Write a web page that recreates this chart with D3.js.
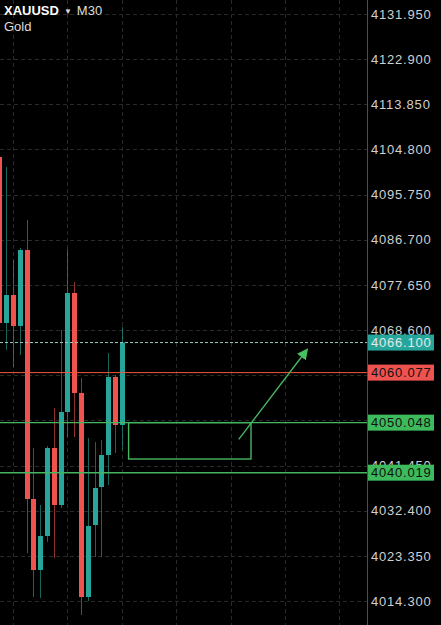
<!DOCTYPE html>
<html>
<head>
<meta charset="utf-8">
<style>
  html, body { margin: 0; padding: 0; background: #000; overflow: hidden; }
  svg { display: block; font-family: 'Liberation Sans', Arial, sans-serif; }
</style>
</head>
<body>
<div id="chart"></div>
<script src="https://cdn.jsdelivr.net/npm/d3@7/dist/d3.min.js"></script>
<script>
// XAUUSD M30 candles (oldest first)
const opens = [4103.29, 4070.02, 4075.63, 4069.42, 4084.65, 4034.74, 4020.51, 4027.33, 4044.97, 4033.54,
  4052.18, 4076.03, 4055.99, 4015.10, 4029.53, 4037.15, 4043.56, 4059.20, 4049.58];
const highs = [4104.50, 4101.29, 4082.65, 4085.05, 4090.66, 4044.97, 4033.54, 4045.37, 4052.98, 4068.62,
  4084.85, 4078.24, 4059.00, 4046.97, 4046.17, 4046.57, 4064.01, 4059.60, 4069.22];
const lows = [4068.00, 4064.61, 4061.20, 4063.61, 4023.92, 4015.10, 4014.90, 4026.13, 4022.92, 4032.94,
  4047.17, 4047.17, 4011.49, 4014.30, 4023.12, 4023.12, 4037.55, 4043.96, 4044.56];
const closes = [4070.02, 4075.63, 4069.42, 4084.65, 4034.74, 4020.51, 4027.33, 4044.97, 4033.54, 4052.18,
  4076.03, 4055.99, 4015.10, 4029.33, 4036.95, 4043.56, 4059.20, 4049.58, 4066.10];

// price axis labels
const tickLabels = ['4131.950', '4122.900', '4113.850', '4104.800', '4095.750', '4086.700', '4077.650',
  '4068.600', '4059.550', '4050.500', '4041.450', '4032.400', '4023.350', '4014.300'];
const gridBars = [2, 10, 18, 26, 34, 42, 50];

// price lines
const currentPrice = 4066.100;
const redLevel = 4060.077;
const greenLevels = [4050.048, 4040.019];

// drawing: zone box and arrow (bar index / price)
const zoneBars = [19, 37];
const zonePrices = [4050.048, 4042.76];
const arrowBars = [35.2, 45.2];
const arrowPrices = [4046.7, 4064.6];

const svgwidth = 441;
const svgheight = 625;
const axisX = 367;
const up = '#26a69a';
const down = '#ef5350';
const green = '#3dbb5c';

const svg = d3.select('#chart').append('svg')
  .attr('width', svgwidth)
  .attr('height', svgheight)
  .style('background', '#000');

const x = d3.scaleLinear().domain([0, 50]).range([-0.6, 339.4]);
const y = d3.scaleLinear().domain([4014.3, 4131.95]).range([601, 14]);
const tickValues = tickLabels.map(Number);
const levelValues = [currentPrice, redLevel].concat(greenLevels);
// 被价格标签完全盖住的刻度文字不画
const labelTicks = tickValues.filter(t => levelValues.every(v => Math.abs(y(t) - y(v)) > 5));

// 网格
svg.append('g').selectAll('line')
  .data(tickValues)
  .enter()
  .append('line')
  .attr('x1', 0)
  .attr('x2', axisX)
  .attr('y1', d => Math.round(y(d)) + 0.5)
  .attr('y2', d => Math.round(y(d)) + 0.5)
  .attr('stroke', '#2a2a2a')
  .attr('stroke-dasharray', '4,3');
svg.append('g').selectAll('line')
  .data(gridBars)
  .enter()
  .append('line')
  .attr('x1', d => Math.round(x(d)) + 0.5)
  .attr('x2', d => Math.round(x(d)) + 0.5)
  .attr('y1', 0)
  .attr('y2', svgheight)
  .attr('stroke', '#2a2a2a')
  .attr('stroke-dasharray', '4,3');

// 价格轴
const axis = svg.append('g')
  .attr('transform', `translate(${axisX},0)`)
  .call(d3.axisRight(y)
    .tickValues(labelTicks)
    .tickFormat(d3.format('.3f'))
    .tickSize(0)
    .tickPadding(4));
axis.select('.domain').remove();
axis.selectAll('text')
  .attr('fill', '#d0d0d0')
  .attr('font-size', '13px')
  .attr('font-family', "'Liberation Sans', Arial, sans-serif")
  .attr('letter-spacing', '0.8px');
svg.append('line')
  .attr('x1', axisX + 0.5)
  .attr('x2', axisX + 0.5)
  .attr('y1', 0)
  .attr('y2', svgheight)
  .attr('stroke', '#505050');

// 蜡烛
const candles = d3.range(opens.length).map(i => ({
  i, o: opens[i], h: highs[i], l: lows[i], c: closes[i]
}));
const cg = svg.append('g').attr('class', 'candles');
cg.selectAll('.wick')
  .data(candles)
  .enter()
  .append('line')
  .attr('class', 'wick')
  .attr('x1', d => Math.round(x(d.i)) + 0.5)
  .attr('x2', d => Math.round(x(d.i)) + 0.5)
  .attr('y1', d => y(d.h))
  .attr('y2', d => y(d.l))
  .attr('stroke', d => (d.c >= d.o ? up : down))
  .attr('stroke-opacity', 0.6);
cg.selectAll('.body')
  .data(candles)
  .enter()
  .append('rect')
  .attr('class', 'body')
  .attr('x', d => Math.round(x(d.i)) - 2)
  .attr('width', 5)
  .attr('y', d => y(Math.max(d.o, d.c)))
  .attr('height', d => Math.max(1, Math.abs(y(d.o) - y(d.c))))
  .attr('fill', d => (d.c >= d.o ? up : down));

// 价格线
svg.append('line')
  .attr('x1', 0).attr('x2', axisX)
  .attr('y1', y(currentPrice)).attr('y2', y(currentPrice))
  .attr('stroke', '#9cc9c4')
  .attr('stroke-dasharray', '3,2');
svg.append('line')
  .attr('x1', 0).attr('x2', axisX)
  .attr('y1', y(redLevel)).attr('y2', y(redLevel))
  .attr('stroke', '#f0553f');
svg.append('g').selectAll('line')
  .data(greenLevels)
  .enter()
  .append('line')
  .attr('x1', 0).attr('x2', axisX)
  .attr('y1', d => y(d)).attr('y2', d => y(d))
  .attr('stroke', '#47b560')
  .attr('stroke-width', 1.4);

// 区域框和箭头
svg.append('rect')
  .attr('x', x(zoneBars[0]))
  .attr('y', y(zonePrices[0]))
  .attr('width', x(zoneBars[1]) - x(zoneBars[0]))
  .attr('height', y(zonePrices[1]) - y(zonePrices[0]))
  .attr('fill', 'none')
  .attr('stroke', '#47b560')
  .attr('stroke-width', 1.4);
svg.append('defs').append('marker')
  .attr('id', 'arrowhead')
  .attr('viewBox', '0 0 10 10')
  .attr('refX', 8)
  .attr('refY', 5)
  .attr('markerWidth', 11)
  .attr('markerHeight', 11)
  .attr('markerUnits', 'userSpaceOnUse')
  .attr('orient', 'auto')
  .append('path')
  .attr('d', 'M0,0L10,5L0,10Z')
  .attr('fill', '#47c060');
svg.append('line')
  .attr('x1', x(arrowBars[0])).attr('y1', y(arrowPrices[0]))
  .attr('x2', x(arrowBars[1])).attr('y2', y(arrowPrices[1]))
  .attr('stroke', '#47b560')
  .attr('stroke-width', 1.4)
  .attr('marker-end', 'url(#arrowhead)');

// 价格标签
const labels = [
  { v: currentPrice, bg: up, fg: '#e8e8e8' },
  { v: redLevel, bg: down, fg: '#111' },
  { v: greenLevels[0], bg: green, fg: '#111' },
  { v: greenLevels[1], bg: green, fg: '#111' }
];
const lg = svg.append('g').selectAll('g')
  .data(labels)
  .enter()
  .append('g')
  .attr('transform', d => `translate(${axisX + 1},${y(d.v)})`);
lg.append('rect')
  .attr('x', 0)
  .attr('y', -8)
  .attr('width', 66)
  .attr('height', 16)
  .attr('fill', d => d.bg);
lg.append('text')
  .attr('x', 3)
  .attr('dy', '0.36em')
  .attr('fill', d => d.fg)
  .attr('font-size', '13px')
  .attr('letter-spacing', '0.8px')
  .text(d => d3.format('.3f')(d.v));

// 标题
const title = svg.append('text')
  .attr('x', 4)
  .attr('y', 15)
  .attr('font-size', '13px');
title.append('tspan')
  .attr('fill', '#fff')
  .attr('font-weight', 'bold')
  .text('XAUUSD');
title.append('tspan')
  .attr('fill', '#ddd')
  .attr('font-size', '8px')
  .attr('dx', 5)
  .attr('dy', -1)
  .text('▼');
title.append('tspan')
  .attr('fill', '#ddd')
  .attr('dx', 5)
  .attr('dy', 1)
  .text('M30');
svg.append('text')
  .attr('x', 4)
  .attr('y', 31)
  .attr('font-size', '13px')
  .attr('fill', '#ddd')
  .text('Gold');
</script>
</body>
</html>
